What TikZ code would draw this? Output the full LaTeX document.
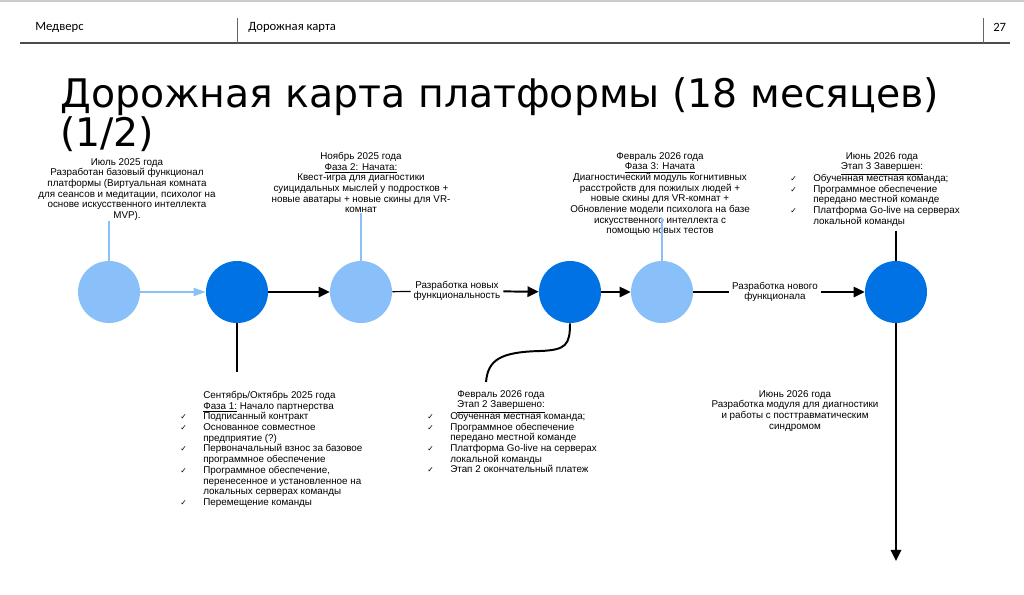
\documentclass[tikz,border=0pt]{standalone}
\usepackage{fontspec}
\setmainfont{Liberation Sans}
\newfontfamily\headfont{Carlito}
\newfontfamily\symbfont{DejaVu Sans}
\newfontfamily\titlefont{DejaVu Sans}
\usetikzlibrary{positioning, arrows.meta}
\definecolor{liteblue}{RGB}{137,192,250}
\definecolor{darkblue}{RGB}{0,114,227}
\newcommand{\tick}{\makebox[0.575cm][l]{\symbfont\fontsize{5.5}{7.6}\selectfont ✓}}
\newcommand{\indt}{\hspace*{0.575cm}}

\begin{document}
\begin{tikzpicture}[x=0.025cm, y=-0.025cm, >=Latex,
  every node/.style={font=\fontsize{7}{7.6}\selectfont},
  lite/.style={circle, fill=liteblue, minimum size=1.55cm, inner sep=0pt},
  dark/.style={lite, fill=darkblue},
  note/.style={align=center, inner sep=0pt, anchor=north},
  list/.style={align=left, inner sep=0pt, anchor=north west},
  lab/.style={align=center, inner sep=2pt, fill=white},
  flow/.style={-{Triangle[length=2.8mm, width=2.6mm]}, line width=1.4pt},
  plain/.style={line width=0.85pt},
  feed/.style={liteblue, line width=1.3pt},
  hdr/.style={font=\headfont\fontsize{9}{10}\selectfont, anchor=west, inner sep=0pt}]
  \useasboundingbox (0,0) rectangle (1024,594);
  % header
  \draw[gray!40, line width=0.8pt] (0,1) -- (1024,1);
  \draw[black!70, line width=1.1pt] (20,43) -- (1010,43);
  \draw[black!60, line width=0.6pt] (237,18) -- (237,43) (983,18) -- (983,43);
  \node[hdr] (brand) at (35,27) {Медверс};
  \node[hdr] (sect) at (248,27) {Дорожная карта};
  \node[hdr] (page) at (993,27) {27};
  \node[anchor=north west, align=left, inner sep=0pt,
    font=\titlefont\fontsize{28}{28.2}\selectfont] (title) at (60,77)
    {Дорожная карта платформы (18 месяцев)\\(1/2)};
  % milestones
  \node[lite] (j1) at (109,292) {};
  \node[dark] (s1) at (237,292) {};
  \node[lite] (n1) at (361,292) {};
  \node[dark] (f1) at (570,292) {};
  \node[lite] (f2) at (662,292) {};
  \node[dark] (j2) at (896,292) {};
  % texts above
  \node[note] (tj1) at (127,158) {Июль 2025 года\\Разработан базовый функционал\\платформы (Виртуальная комната\\для сеансов и медитации, психолог на\\основе искусственного интеллекта\\MVP).};
  \node[note] (tn1) at (361,152) {Ноябрь 2025 года\\\underline{Фаза 2: Начата:}\\Квест-игра для диагностики\\суицидальных мыслей у подростков +\\новые аватары + новые скины для VR-\\комнат};
  \node[note] (tf2) at (660,152) {Февраль 2026 года\\\underline{Фаза 3: Начата}\\Диагностический модуль когнитивных\\расстройств для пожилых людей +\\новые скины для VR-комнат +\\Обновление модели психолога на базе\\искусственного интеллекта с\\помощью новых тестов};
  \node[note] (hj2) at (882,152) {Июнь 2026 года\\\underline{Этап 3 Завершен:}};
  \node[list] (tj2) at (790,174) {\tick Обученная местная команда;\\\tick Программное обеспечение\\\indt передано местной команде\\\tick Платформа Go-live на серверах\\\indt локальной команды};
  % texts below
  \node[list] (ts1) at (180,391) {\indt Сентябрь/Октябрь 2025 года\\\indt\underline{Фаза 1:} Начало партнерства\\\tick Подписанный контракт\\\tick Основанное совместное\\\indt предприятие (?)\\\tick Первоначальный взнос за базовое\\\indt программное обеспечение\\\tick Программное обеспечение,\\\indt перенесенное и установленное на\\\indt локальных серверах команды\\\tick Перемещение команды};
  \node[note] (hf1) at (501,390) {Февраль 2026 года\\\underline{Этап 2 Завершено:}};
  \node[list] (tf1) at (427,412) {\tick Обученная местная команда;\\\tick Программное обеспечение\\\indt передано местной команде\\\tick Платформа Go-live на серверах\\\indt локальной команды\\\tick Этап 2 окончательный платеж};
  \node[note] (tj3) at (795,390) {Июнь 2026 года\\Разработка модуля для диагностики\\и работы с посттравматическим\\синдромом};
  % connector labels
  \node[lab] (l1) at (457,291) {Разработка новых\\функциональность};
  \node[lab] (l2) at (775,292) {Разработка нового\\функционала};
  \coordinate (s1end) at (237,372);
  \coordinate (f1end) at (486,382);
  \coordinate (j2end) at (896,561);
  % connectors
  \draw[feed, -{Triangle[length=3mm, width=2mm]}] (j1) -- (s1);
  \draw[feed] (j1.north) -- (j1.north |- tj1.south);
  \draw[feed] (n1.north) -- (n1.north |- tn1.south);
  \draw[feed, shorten >=-0.45cm] (f2.north) -- (f2.north |- tf2.south);
  \draw[flow] (s1) -- (n1);
  \draw[plain] (n1) -- (l1); \draw[flow] (l1) -- (f1);
  \draw[flow] (f1) -- (f2);
  \draw[plain] (f2) -- (l2); \draw[flow] (l2) -- (j2);
  \draw[plain, shorten >=0.12cm] (j2.north) -- (j2.north |- tj2.south);
  \draw[line width=1.4pt] (s1) -- (s1end);
  \draw[line width=1.4pt] (f1.south) .. controls (570,345) and (566,350) .. (540,351)
    .. controls (500,352) and (488,360) .. (f1end);
  \draw[flow] (j2) -- (j2end);
\end{tikzpicture}
\end{document}
